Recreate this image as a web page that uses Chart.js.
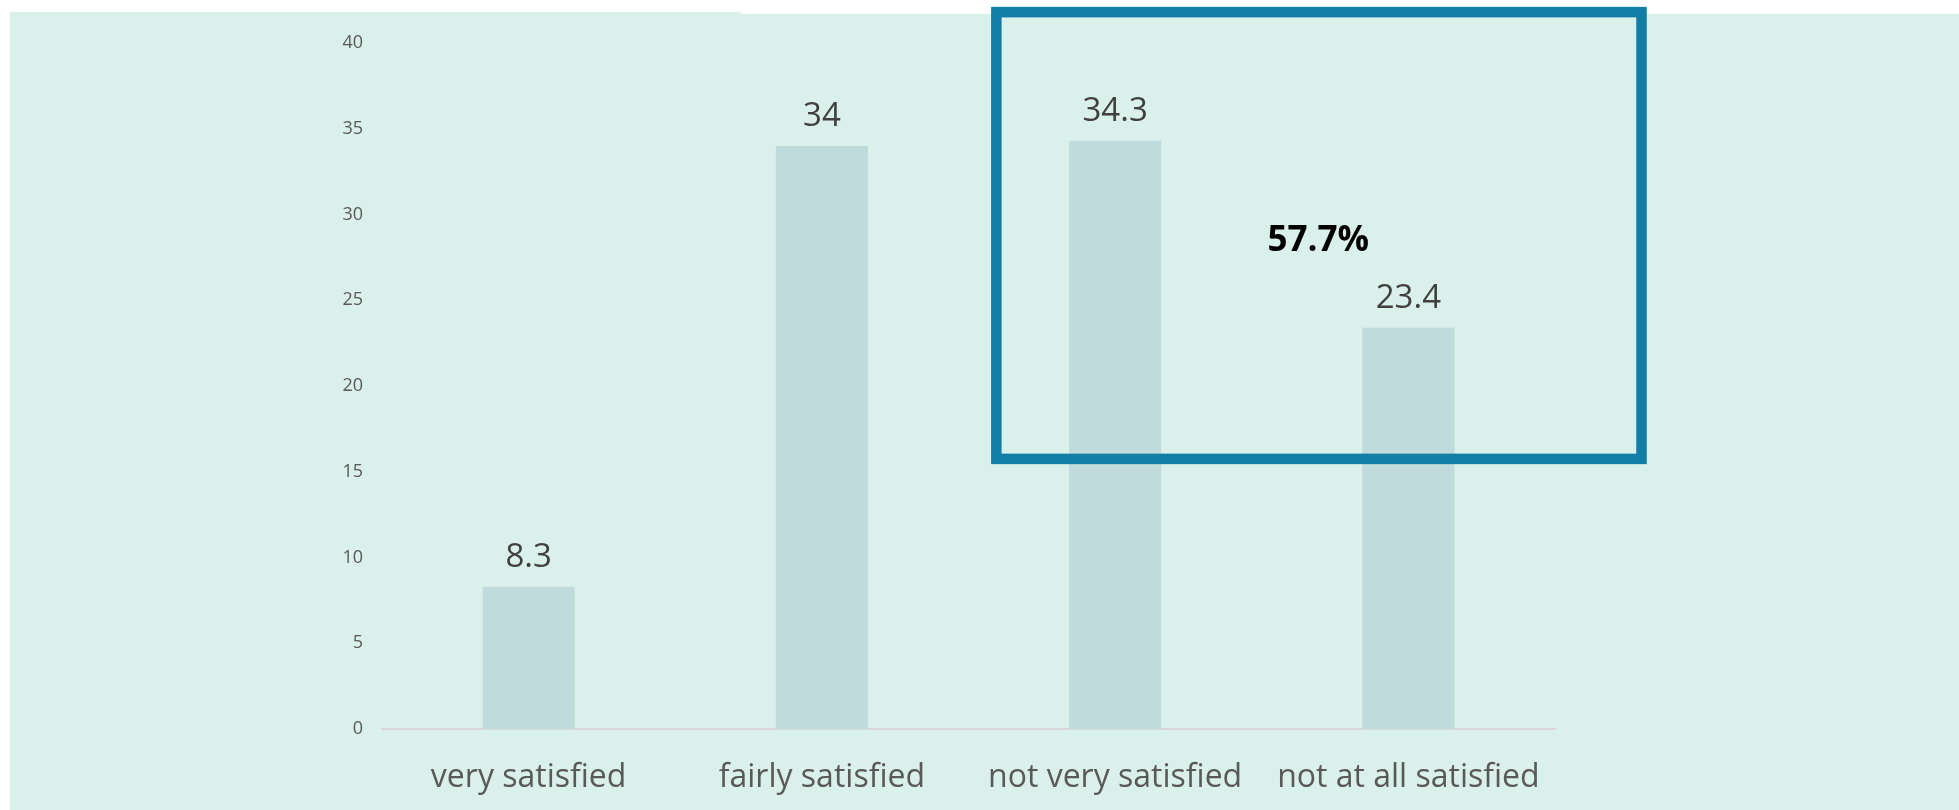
<!DOCTYPE html>
<html>
<head>
<meta charset="utf-8">
<script src="https://cdn.jsdelivr.net/npm/chart.js@4/dist/chart.umd.min.js"></script>
<style>
  html, body { margin: 0; padding: 0; background: #ffffff; }
  #wrap { position: absolute; left: 0; top: 0; width: 1959px; height: 810px; }
</style>
</head>
<body>
<div id="wrap"><canvas id="c" width="1959" height="810"></canvas></div>
<script>
// Satisfaction survey: share of respondents per answer (%)
const categories = ['very satisfied', 'fairly satisfied', 'not very satisfied', 'not at all satisfied'];
const shares = [8.3, 34, 34.3, 23.4];
const yTicks = [0, 5, 10, 15, 20, 25, 30, 35, 40];

// Combined share of the two dissatisfied answers
const dissatisfied = Math.round((shares[2] + shares[3]) * 10) / 10;

const FONT = "'Open Sans', 'Liberation Sans', sans-serif";
const PANEL = '#daf0eb';
const BAR = '#c0dbdb';
const FRAME = '#127ea6';

// Mint panel behind the plot
const panelPlugin = {
  id: 'panel',
  beforeDraw(chart) {
    const ctx = chart.ctx;
    ctx.save();
    ctx.fillStyle = PANEL;
    ctx.beginPath();
    ctx.moveTo(10, 12);
    ctx.lineTo(741, 12);
    ctx.lineTo(741, 14);
    ctx.lineTo(1959, 14);
    ctx.lineTo(1959, 810);
    ctx.lineTo(10, 810);
    ctx.closePath();
    ctx.fill();
    ctx.restore();
  }
};

// Value printed above each bar
const valueLabels = {
  id: 'valueLabels',
  afterDatasetsDraw(chart) {
    const ctx = chart.ctx;
    const meta = chart.getDatasetMeta(0);
    ctx.save();
    ctx.font = '33px ' + FONT;
    ctx.fillStyle = '#404040';
    ctx.textAlign = 'center';
    ctx.textBaseline = 'alphabetic';
    meta.data.forEach((bar, i) => {
      ctx.fillText(String(shares[i]), bar.x, bar.y - 20);
    });
    ctx.restore();
  }
};

// Frame around the two dissatisfied answers with their combined share
const highlight = {
  id: 'highlight',
  afterDraw(chart, args, opts) {
    const { ctx, scales: { x, y } } = chart;
    const left = x.getPixelForValue(opts.xMin);
    const right = x.getPixelForValue(opts.xMax);
    const top = y.getPixelForValue(opts.yMax);
    const bottom = y.getPixelForValue(opts.yMin);
    ctx.save();
    ctx.strokeStyle = FRAME;
    ctx.lineWidth = 10.5;
    ctx.strokeRect(left, top, right - left, bottom - top);
    ctx.font = 'bold 35px ' + FONT;
    ctx.fillStyle = '#000000';
    ctx.textAlign = 'center';
    ctx.textBaseline = 'alphabetic';
    ctx.fillText(dissatisfied.toFixed(1) + '%', x.getPixelForValue(opts.textX), y.getPixelForValue(opts.textY));
    ctx.restore();
  }
};

new Chart(document.getElementById('c'), {
  type: 'bar',
  data: {
    labels: categories,
    datasets: [{
      data: shares,
      backgroundColor: BAR,
      borderWidth: 0,
      categoryPercentage: 1,
      barPercentage: 0.314
    }]
  },
  options: {
    responsive: false,
    animation: false,
    events: [],
    layout: { padding: { left: 0, top: 43, right: 404, bottom: 0 } },
    plugins: {
      legend: { display: false },
      tooltip: { enabled: false },
      title: { display: false },
      highlight: { xMin: 1.595, xMax: 3.795, yMin: 15.75, yMax: 41.8, textX: 2.693, textY: 27.9 }
    },
    scales: {
      x: {
        grid: { display: false, drawTicks: false },
        border: { display: true, color: '#d9d5d9', width: 2 },
        ticks: {
          font: { family: FONT, size: 32 },
          color: '#595959',
          padding: 30,
          maxRotation: 0,
          autoSkip: false
        },
        afterFit(scale) { scale.height = 81; }
      },
      y: {
        min: 0,
        max: 40,
        grid: { display: false, drawTicks: false },
        border: { display: false },
        afterBuildTicks(scale) { scale.ticks = yTicks.map(v => ({ value: v })); },
        ticks: {
          font: { family: FONT, size: 18 },
          color: '#595959',
          padding: 19
        },
        afterFit(scale) { scale.width = 382; }
      }
    }
  },
  plugins: [panelPlugin, valueLabels, highlight]
});
</script>
</body>
</html>
